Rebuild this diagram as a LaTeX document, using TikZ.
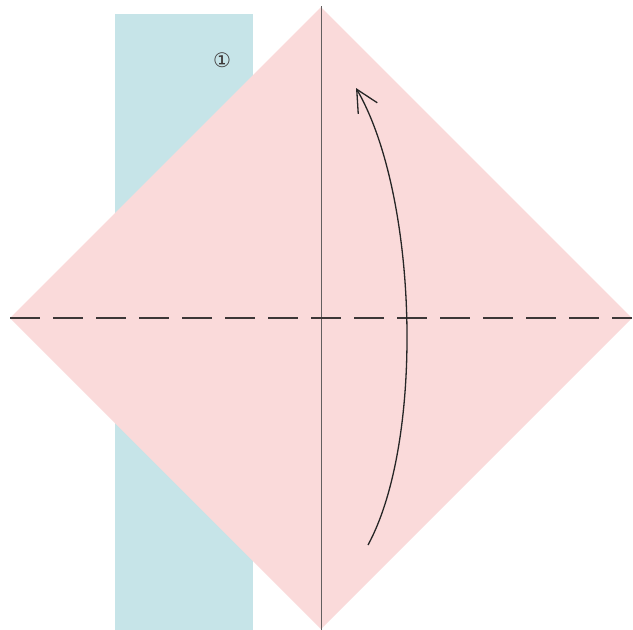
\documentclass[tikz,border=0pt]{standalone}
\usepackage{fontspec}
\newfontfamily\symfont{DejaVu Sans}
\usetikzlibrary{arrows.meta}
\definecolor{paperpink}{RGB}{250, 218, 218}
\definecolor{paperblue}{RGB}{198, 228, 232}
\definecolor{inkgray}{RGB}{60, 55, 55}

\begin{document}
\begin{tikzpicture}[
  x=1pt, y=-1pt,
  foldline/.style={inkgray, line width=1.3pt, dash pattern=on 30pt off 13pt},
  creaseline/.style={inkgray!80, line width=0.6pt},
  foldarrow/.style={-{Straight Barb[length=22pt, width=22pt, line width=1.3pt]}, line width=1.3pt, black!85}
]
\useasboundingbox (0,0) rectangle (633,630);

% blue sheet behind
\fill[paperblue] (115,14) rectangle (253,630);
\node[font=\symfont\fontsize{20}{20}\selectfont, text=inkgray] (stepnum) at (222,60) {①};

% pink square
\coordinate (top) at (321,7);
\coordinate (right) at (632,318);
\coordinate (bottom) at (321,629);
\coordinate (left) at (10,318);
\fill[paperpink] (top) -- (right) -- (bottom) -- (left) -- cycle;

% crease and fold lines
\draw[creaseline] (321,6) -- (321,630);
\draw[foldline] (left) -- (right);

% fold arrow
\coordinate (arrowstart) at (368,545);
\coordinate (arrowend) at (356,88);
\draw[foldarrow] (arrowstart) .. controls (425,440) and (418,195) .. (arrowend);

\end{tikzpicture}
\end{document}
